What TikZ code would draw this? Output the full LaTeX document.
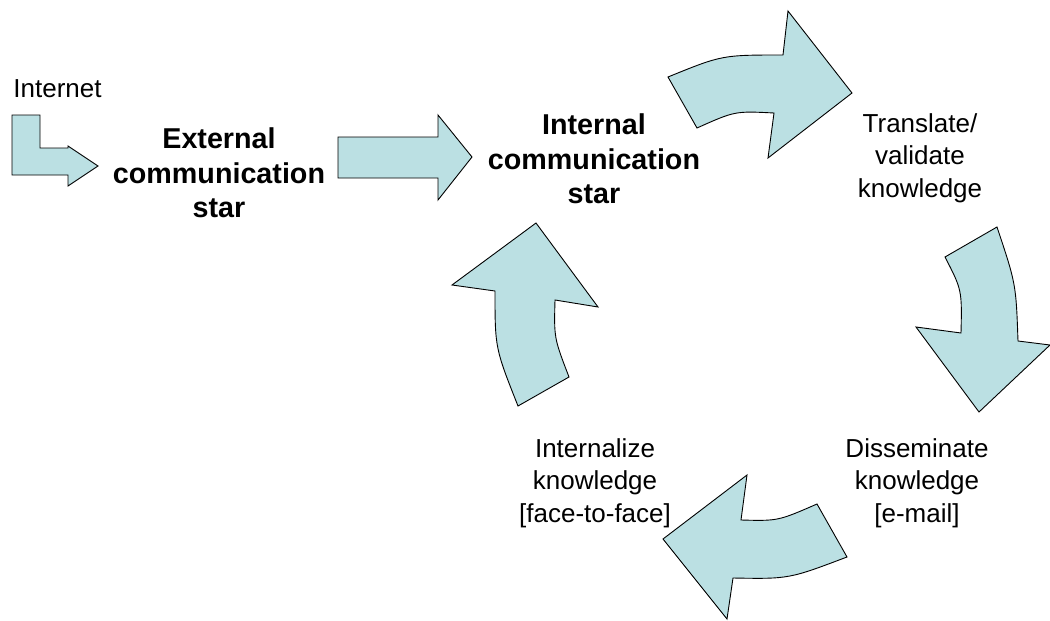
\documentclass[tikz,border=0pt]{standalone}
\usepackage{fontspec}
\setmainfont{Liberation Sans}
\definecolor{arrowfill}{RGB}{187,224,227}
\tikzset{
  blockarrow/.style={draw=black,fill=arrowfill,line width=0.9pt,line join=miter},
  steplabel/.style={align=center,inner sep=0pt,font=\fontsize{26}{32.5}\selectfont},
  starlabel/.style={align=center,inner sep=0pt,font=\fontsize{28.7}{34.5}\selectfont\bfseries}
}
\begin{document}
\begin{tikzpicture}[x=1pt,y=-1pt]
    \useasboundingbox (0,0) rectangle (1050,621);
    % bent arrow from the internet
    \draw[blockarrow] (12,115) -- (40,115) -- (40,148) -- (68,148) -- (68,146)
        -- (98,166) -- (68,186) -- (68,175) -- (12,175) -- cycle;
    % straight arrow
    \draw[blockarrow] (338,137) -- (438,137) -- (438,115) -- (472,157)
        -- (438,200) -- (438,178) -- (338,178) -- cycle;
    % the cycle of curved arrows
    \draw[blockarrow] (668,77) .. controls (722,55) .. (783,55) -- (788,11)
        -- (852,93) -- (768,158) -- (774,113) .. controls (735,111) .. (697,128) -- cycle;
    \draw[blockarrow] (997,227) -- (945,257) .. controls (962,290) .. (961,333)
        -- (916,327) -- (979,412) -- (1050,345) -- (1018,341)
        .. controls (1016,284) .. (997,227) -- cycle;
    \draw[blockarrow] (663,539) -- (747,475) -- (741,520) .. controls (778,521) .. (817,504)
        -- (847,557) .. controls (789,579) .. (733,578) -- (727,619) -- cycle;
    \draw[blockarrow] (536,223) -- (598,307) -- (555,300) .. controls (554,338) .. (569,377)
        -- (518,406) .. controls (495,348) .. (495,291) -- (452,285) -- cycle;
    % labels
    \node[steplabel,anchor=base] (internet) at (57.5,97) {Internet};
    \node[starlabel] (external) at (219,173) {External\\communication\\star};
    \node[starlabel] (internal) at (594,159) {Internal\\communication\\star};
    \node[steplabel] (translate) at (920,158) {Translate/\\validate\\knowledge};
    \node[steplabel] (disseminate) at (917,483) {Disseminate\\knowledge\\{[e-mail]}};
    \node[steplabel] (internalize) at (595,483) {Internalize\\knowledge\\{[face-to-face]}};
\end{tikzpicture}
\end{document}
